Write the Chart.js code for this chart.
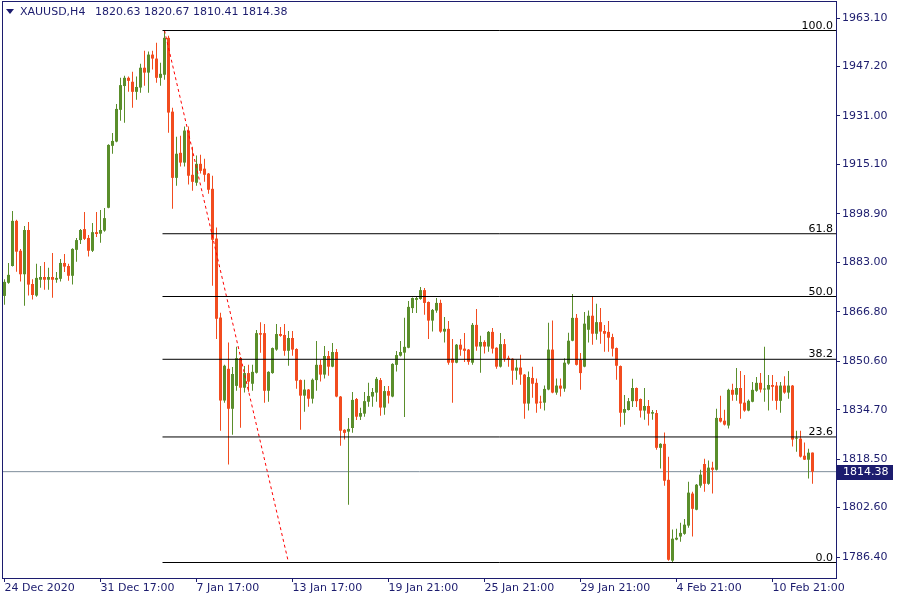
<!DOCTYPE html>
<html><head><meta charset="utf-8">
<script src="https://cdn.jsdelivr.net/npm/chart.js@4/dist/chart.umd.min.js"></script>
<style>html,body{margin:0;padding:0;background:#fff;}#wrap{width:900px;height:600px;position:relative;}</style>
</head><body><div id="wrap"><canvas id="c" width="900" height="600"></canvas></div>
<script>
const symbolTitle = 'XAUUSD,H4';
const dateLabels = ['24 Dec 2020','31 Dec 17:00','7 Jan 17:00','13 Jan 17:00','19 Jan 21:00','25 Jan 21:00','29 Jan 21:00','4 Feb 21:00','10 Feb 21:00'];
const dateLabelBars = [0,24,48,72,96,120,144,168,192];
const priceTicks = [1963.10,1947.20,1931.00,1915.10,1898.90,1883.00,1866.80,1850.60,1834.70,1818.50,1802.60,1786.40];
const opens = [1872.0,1876.3,1881.8,1896.6,1886.8,1879.1,1893.6,1875.9,1872.1,1877.3,1878.2,1877.3,1878.2,1877.3,1877.6,1882.8,1881.8,1878.6,1887.1,1890.3,
1893.9,1891.0,1886.8,1892.9,1892.4,1893.4,1900.9,1921.2,1922.6,1933.0,1940.8,1943.5,1942.2,1938.9,1940.3,1946.8,1945.2,1951.1,1949.8,1943.5,
1944.5,1956.6,1932.4,1910.7,1918.9,1915.7,1926.2,1911.7,1909.1,1915.3,1913.7,1912.1,1907.1,1890.8,1864.9,1837.7,1848.1,1835.0,1842.5,1851.6,
1841.9,1846.7,1843.2,1846.8,1859.8,1859.8,1840.9,1846.7,1854.4,1859.5,1859.2,1854.0,1858.2,1854.6,1844.4,1839.3,1841.3,1838.3,1844.4,1849.4,
1846.2,1852.3,1848.8,1853.6,1839.0,1828.1,1827.5,1828.7,1838.2,1832.4,1833.4,1837.3,1839.0,1840.3,1844.4,1835.4,1840.8,1839.0,1849.4,1852.4,
1853.4,1855.0,1868.0,1870.7,1871.0,1873.9,1870.0,1863.9,1867.2,1869.7,1860.3,1861.2,1851.4,1850.1,1856.0,1854.7,1854.4,1850.1,1862.5,1855.4,
1856.9,1855.4,1860.2,1855.0,1848.8,1856.2,1851.7,1851.4,1847.5,1848.5,1846.2,1836.7,1845.1,1843.5,1837.3,1837.0,1841.3,1854.4,1840.3,1842.6,
1841.6,1849.8,1857.3,1864.8,1851.0,1848.8,1860.9,1865.5,1859.6,1863.4,1860.5,1860.2,1858.5,1854.9,1849.0,1833.7,1834.6,1837.5,1841.8,1838.2,
1834.4,1835.9,1833.4,1833.6,1822.2,1823.5,1811.7,1785.2,1792.1,1793.1,1794.0,1796.7,1807.2,1801.9,1809.8,1816.9,1810.4,1815.7,1815.0,1832.0,
1831.1,1829.5,1841.2,1839.6,1841.8,1837.0,1834.4,1837.3,1840.9,1843.5,1841.3,1841.3,1842.8,1842.6,1837.6,1842.6,1840.3,1842.6,1825.2,1825.2,
1819.6,1818.3,1820.63];
const highs = [1877.5,1882.8,1899.8,1897.0,1887.4,1894.9,1896.2,1877.5,1882.5,1881.8,1883.1,1881.2,1886.1,1879.8,1884.1,1885.7,1882.5,1887.6,1891.0,1893.9,
1899.5,1892.0,1895.9,1899.5,1900.2,1900.8,1921.7,1925.4,1934.9,1943.5,1944.2,1943.9,1945.5,1943.9,1948.1,1952.4,1952.1,1952.4,1955.0,1948.4,
1959.0,1957.3,1933.7,1924.2,1924.5,1927.5,1927.5,1920.9,1918.0,1918.3,1917.0,1912.3,1911.4,1894.4,1866.5,1849.4,1856.7,1848.7,1855.3,1852.0,
1849.0,1849.4,1849.4,1860.8,1863.4,1862.8,1847.3,1855.1,1862.8,1861.8,1862.8,1860.5,1860.5,1854.8,1844.6,1844.5,1841.5,1844.9,1857.2,1851.0,
1855.6,1853.9,1856.6,1854.6,1839.2,1828.3,1832.0,1840.5,1838.5,1835.3,1840.5,1843.5,1841.8,1845.4,1845.1,1842.5,1842.5,1849.9,1853.9,1857.2,
1864.8,1870.3,1871.5,1871.6,1874.9,1874.6,1870.2,1867.7,1871.3,1870.7,1865.1,1863.8,1857.9,1856.2,1857.9,1859.8,1854.6,1863.1,1867.7,1858.9,
1857.5,1860.5,1861.5,1855.2,1859.8,1857.9,1852.4,1851.6,1851.1,1852.7,1846.4,1847.2,1848.8,1844.9,1839.3,1842.6,1863.2,1863.9,1844.9,1844.9,
1851.6,1859.9,1872.6,1866.1,1853.3,1866.7,1867.2,1871.7,1869.4,1868.0,1862.5,1863.8,1859.6,1855.1,1849.2,1839.5,1838.5,1844.8,1842.0,1838.4,
1841.8,1837.9,1834.6,1834.6,1823.7,1827.2,1819.3,1795.4,1795.7,1797.6,1798.9,1811.1,1807.8,1810.3,1815.0,1818.6,1818.0,1817.6,1835.0,1839.3,
1834.7,1841.6,1843.2,1848.4,1847.4,1846.1,1838.0,1843.8,1845.4,1846.7,1855.3,1846.1,1846.1,1843.8,1843.8,1845.7,1847.4,1842.8,1827.8,1827.8,
1823.9,1821.9,1820.67];
const lows = [1869.1,1876.0,1881.6,1879.9,1876.7,1868.8,1872.1,1870.8,1871.7,1874.7,1874.0,1874.0,1871.4,1876.3,1876.7,1879.8,1877.0,1875.7,1883.2,1889.0,
1890.3,1884.9,1886.4,1891.3,1889.4,1893.0,1900.7,1918.6,1922.4,1929.4,1928.8,1938.9,1933.7,1936.3,1938.6,1940.9,1938.6,1946.2,1941.9,1940.9,
1942.9,1925.5,1900.6,1908.1,1914.4,1914.4,1908.5,1906.5,1908.1,1912.1,1909.4,1905.5,1875.3,1857.9,1827.8,1837.0,1816.7,1826.5,1840.9,1828.8,
1840.3,1840.6,1840.9,1846.6,1853.4,1837.0,1837.3,1846.5,1854.0,1858.6,1852.4,1849.1,1852.4,1841.6,1828.1,1834.0,1835.7,1836.7,1840.9,1843.9,
1844.9,1845.8,1848.6,1838.8,1822.9,1824.9,1803.5,1827.1,1831.3,1831.3,1832.4,1835.7,1835.7,1837.3,1832.7,1833.0,1836.7,1838.8,1847.2,1852.1,
1832.3,1854.8,1866.4,1866.4,1870.7,1865.8,1857.9,1860.3,1866.5,1859.9,1856.7,1849.4,1837.0,1849.9,1852.4,1850.3,1849.4,1849.4,1854.0,1846.8,
1853.1,1853.7,1853.1,1848.1,1848.5,1850.4,1848.8,1842.9,1844.5,1842.9,1831.7,1834.4,1838.6,1833.7,1835.0,1834.4,1841.1,1840.1,1839.6,1839.0,
1840.6,1849.4,1857.1,1849.2,1841.2,1848.6,1856.7,1856.0,1857.6,1856.3,1853.7,1853.7,1852.1,1844.5,1829.1,1829.8,1834.4,1835.6,1835.6,1832.1,
1831.4,1829.5,1831.4,1821.6,1815.4,1809.8,1785.2,1784.6,1791.9,1791.4,1793.7,1796.0,1793.1,1801.7,1809.1,1807.8,1810.1,1807.2,1814.8,1830.5,
1829.5,1828.5,1837.6,1837.6,1831.7,1834.0,1834.2,1837.1,1840.6,1840.3,1837.3,1834.4,1837.6,1834.7,1833.7,1839.9,1838.3,1822.6,1820.9,1819.0,
1818.2,1812.1,1810.41];
const closes = [1876.6,1878.9,1896.6,1886.5,1879.1,1893.6,1875.7,1872.3,1877.9,1878.2,1877.3,1878.2,1877.3,1877.9,1882.8,1881.6,1878.6,1887.4,1890.3,1893.6,
1890.7,1886.8,1892.9,1892.3,1893.6,1897.5,1921.5,1922.8,1933.3,1941.1,1943.5,1942.5,1938.9,1940.5,1946.8,1945.2,1951.1,1949.8,1943.5,1944.8,
1956.6,1932.1,1910.7,1918.6,1915.7,1926.2,1911.4,1909.4,1915.3,1913.0,1911.7,1906.8,1890.4,1864.5,1837.7,1849.1,1835.0,1846.4,1851.6,1841.9,
1846.7,1843.9,1847.1,1859.8,1859.3,1840.9,1847.1,1854.9,1859.5,1858.9,1854.0,1858.2,1854.4,1844.2,1839.3,1841.3,1838.3,1844.5,1849.4,1846.2,
1852.3,1848.8,1853.6,1839.0,1827.8,1827.1,1828.4,1837.9,1832.4,1833.6,1837.5,1839.2,1840.5,1844.8,1835.4,1840.8,1839.3,1849.7,1852.6,1853.6,
1855.3,1868.4,1871.3,1871.3,1873.9,1869.7,1863.9,1867.4,1869.7,1860.3,1861.2,1850.1,1850.1,1856.0,1854.4,1854.0,1850.4,1862.5,1855.4,1856.9,
1855.4,1860.2,1854.7,1848.8,1856.2,1851.4,1851.1,1847.5,1848.5,1846.2,1836.7,1845.4,1843.2,1836.7,1837.0,1841.5,1854.4,1840.3,1842.6,1841.6,
1850.1,1857.3,1864.8,1849.4,1846.7,1862.9,1865.5,1859.6,1863.4,1860.3,1859.6,1858.3,1854.7,1849.1,1833.7,1834.9,1837.5,1841.8,1837.5,1834.4,
1835.9,1833.4,1833.9,1822.2,1823.5,1811.4,1785.5,1792.4,1792.7,1794.3,1797.0,1807.5,1802.2,1810.1,1813.4,1810.4,1815.7,1815.0,1832.0,1830.8,
1829.8,1841.2,1839.6,1841.8,1836.7,1834.4,1837.6,1841.2,1843.5,1841.3,1841.5,1842.8,1842.2,1837.6,1842.6,1840.3,1842.6,1824.9,1825.5,1819.3,
1818.3,1820.6,1814.38];
const fibLevels = [100.0, 61.8, 50.0, 38.2, 23.6, 0.0];
const fibHigh = 1959.0;
const fibLow = 1784.6;
const fibStartBar = 39.5;
const fibHighBar = 40;
const fibLowBar = 71;
const lastPrice = 1814.38;

const X_MIN = -0.375, X_MAX = 207.875;
const Y_MIN = 1779.52, Y_MAX = 1968.35;
const UP = '#5a8e2b', DOWN = '#f24c1f', NAVY = '#1c1c6e';
const FONT = '"DejaVu Sans", Verdana, sans-serif';

const candleColors = opens.map((o, i) => closes[i] >= o ? UP : DOWN);
const bodyData = opens.map((o, i) => ({x: i, y: [o, closes[i]]}));
const wickData = opens.map((o, i) => ({x: i, y: [lows[i], highs[i]]}));

const fibDatasets = fibLevels.map(l => {
  const p = fibLow + (fibHigh - fibLow) * l / 100;
  return {type: 'line', data: [{x: fibStartBar, y: p}, {x: X_MAX, y: p}],
    borderColor: '#000', borderWidth: 1, pointRadius: 0, fill: false, tension: 0};
});

const overlay = {
  id: 'overlay',
  afterDraw(chart) {
    const {ctx, chartArea: a, scales: {y}} = chart;
    ctx.save();
    ctx.font = '11px ' + FONT;
    ctx.fillStyle = '#000'; ctx.textAlign = 'right'; ctx.textBaseline = 'alphabetic';
    fibLevels.forEach(l => {
      const p = fibLow + (fibHigh - fibLow) * l / 100;
      ctx.fillText(l.toFixed(1), a.right - 3, Math.round(y.getPixelForValue(p)) - 2);
    });
    ctx.strokeStyle = NAVY; ctx.lineWidth = 1;
    ctx.strokeRect(a.left - 0.5, a.top - 0.5, a.right - a.left + 1, a.bottom - a.top + 1);
    const py = y.getPixelForValue(lastPrice);
    ctx.fillStyle = NAVY;
    ctx.fillRect(a.right + 1, Math.round(py) - 7, 56, 15);
    ctx.fillStyle = '#fff'; ctx.textAlign = 'left'; ctx.textBaseline = 'middle';
    ctx.fillText(lastPrice.toFixed(2), a.right + 7, Math.round(py) + 0.5);
    const n = opens.length - 1;
    ctx.fillStyle = NAVY;
    ctx.beginPath(); ctx.moveTo(6, 9); ctx.lineTo(14, 9); ctx.lineTo(10, 14); ctx.closePath(); ctx.fill();
    ctx.fillText(symbolTitle, 20, 12);
    ctx.fillText([opens[n], highs[n], lows[n], closes[n]].map(v => v.toFixed(2)).join(' '), 95, 12);
    ctx.restore();
  }
};

new Chart(document.getElementById('c'), {
  type: 'bar',
  data: {
    datasets: [
      ...fibDatasets,
      {type: 'line', data: [{x: fibHighBar, y: fibHigh}, {x: fibLowBar, y: fibLow}],
        borderColor: '#ff0000', borderWidth: 1, borderDash: [3, 3], pointRadius: 0, fill: false, tension: 0},
      {type: 'bar', data: bodyData, backgroundColor: candleColors, barThickness: 3, minBarLength: 1,
        grouped: false, borderWidth: 0, inflateAmount: 0},
      {type: 'bar', data: wickData, backgroundColor: candleColors, barThickness: 1,
        grouped: false, borderWidth: 0, inflateAmount: 0},
      {type: 'line', data: [{x: X_MIN, y: lastPrice}, {x: X_MAX, y: lastPrice}],
        borderColor: '#7d8c9b', borderWidth: 1, pointRadius: 0, fill: false, tension: 0}
    ]
  },
  options: {
    responsive: false, animation: false,
    layout: {padding: {left: 3, top: 2, right: 0, bottom: 0}},
    plugins: {legend: {display: false}, tooltip: {enabled: false}},
    scales: {
      x: {
        type: 'linear', min: X_MIN, max: X_MAX, offset: false,
        grid: {display: true, drawOnChartArea: false, drawTicks: true, tickLength: 4, color: NAVY, offset: false},
        border: {display: false},
        ticks: {autoSkip: false, maxRotation: 0, minRotation: 0, align: 'start', padding: 0,
          color: NAVY, font: {family: FONT, size: 11},
          callback: v => { const k = dateLabelBars.indexOf(v); return k >= 0 ? dateLabels[k] : ''; }},
        afterBuildTicks: s => { s.ticks = dateLabelBars.map(v => ({value: v})); },
        afterFit: s => { s.height = 22; s.paddingLeft = 0; s.paddingRight = 0; s.paddingTop = 0; s.paddingBottom = 0; }
      },
      y: {
        type: 'linear', position: 'right', min: Y_MIN, max: Y_MAX, beginAtZero: false,
        grid: {display: true, drawOnChartArea: false, drawTicks: true, tickLength: 4, color: NAVY},
        border: {display: false},
        ticks: {padding: 2, color: NAVY, font: {family: FONT, size: 11},
          callback: v => Number(v).toFixed(2)},
        afterBuildTicks: s => { s.ticks = priceTicks.map(v => ({value: v})); },
        afterFit: s => { s.width = 64; s.paddingTop = 0; s.paddingBottom = 0; s.paddingLeft = 0; s.paddingRight = 0; }
      }
    }
  },
  plugins: [overlay]
});
</script></body></html>
